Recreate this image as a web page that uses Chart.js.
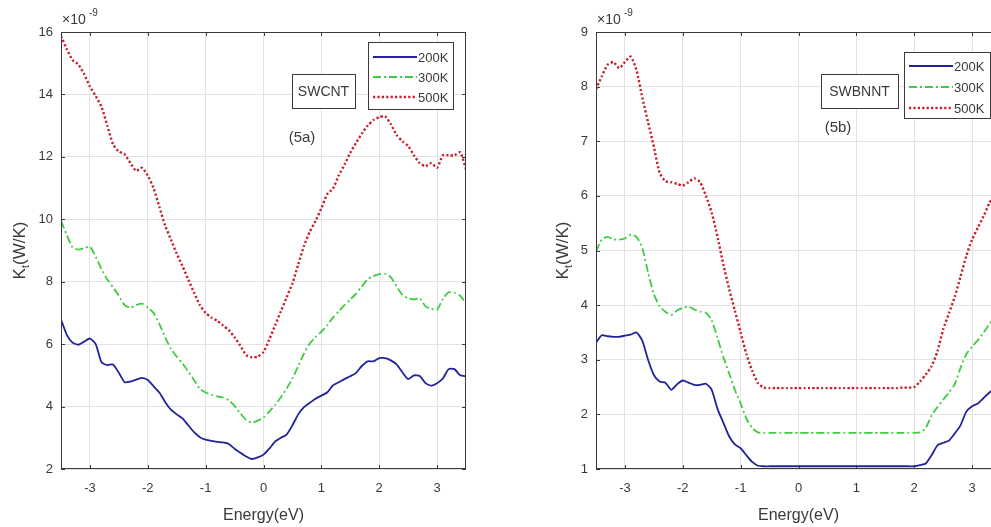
<!DOCTYPE html>
<html>
<head>
<meta charset="utf-8">
<script src="https://cdn.jsdelivr.net/npm/chart.js@4.4.1/dist/chart.umd.min.js"></script>
<style>
    html, body { margin: 0; padding: 0; background: #fff; overflow: hidden; width: 991px; height: 527px; }
    .panel { position: absolute; top: 0; }
    #panelA { left: 0; }
    #panelB { left: 520px; }
</style>
</head>
<body>
<div class="panel" id="panelA"><canvas id="chartA" width="470" height="527"></canvas></div>
<div class="panel" id="panelB"><canvas id="chartB" width="490" height="527"></canvas></div>
<script>
// Energy grid (eV)
const energy = [
    -3.5, -3.4, -3.3, -3.2, -3.1, -3.0, -2.9, -2.8, -2.7, -2.6, -2.5, -2.4, -2.3, -2.2, -2.1, -2.0,
    -1.9, -1.8, -1.7, -1.6, -1.5, -1.4, -1.3, -1.2, -1.1, -1.0, -0.9, -0.8, -0.7, -0.6, -0.5, -0.4,
    -0.3, -0.2, -0.1, 0.0, 0.1, 0.2, 0.3, 0.4, 0.5, 0.6, 0.7, 0.8, 0.9, 1.0, 1.1, 1.2,
    1.3, 1.4, 1.5, 1.6, 1.7, 1.8, 1.9, 2.0, 2.1, 2.2, 2.3, 2.4, 2.5, 2.6, 2.7, 2.8,
    2.9, 3.0, 3.1, 3.2, 3.3, 3.4, 3.5
];

// SWCNT thermal conductance (x1e-9 W/K)
const swcnt200 = [
    6.79, 6.30, 6.05, 5.98, 6.08, 6.18, 6.00, 5.42, 5.33, 5.35, 5.08, 4.78, 4.80, 4.86, 4.92, 4.85,
    4.65, 4.45, 4.15, 3.90, 3.75, 3.62, 3.40, 3.18, 3.02, 2.94, 2.90, 2.87, 2.85, 2.80, 2.65, 2.52,
    2.40, 2.32, 2.37, 2.46, 2.65, 2.88, 3.00, 3.10, 3.40, 3.75, 3.98, 4.12, 4.25, 4.35, 4.45, 4.68,
    4.78, 4.88, 4.97, 5.08, 5.30, 5.45, 5.45, 5.55, 5.55, 5.48, 5.35, 5.10, 4.88, 5.00, 4.98, 4.75,
    4.67, 4.75, 4.90, 5.20, 5.20, 5.00, 4.97
];
const swcnt300 = [
    9.95, 9.50, 9.10, 9.03, 9.08, 9.12, 8.80, 8.40, 8.07, 7.82, 7.55, 7.25, 7.17, 7.25, 7.30, 7.17,
    7.00, 6.65, 6.22, 5.85, 5.60, 5.38, 5.12, 4.85, 4.57, 4.45, 4.38, 4.33, 4.29, 4.20, 4.02, 3.78,
    3.57, 3.49, 3.55, 3.65, 3.84, 4.05, 4.30, 4.58, 4.90, 5.30, 5.70, 6.02, 6.22, 6.40, 6.60, 6.85,
    7.05, 7.25, 7.43, 7.62, 7.85, 8.08, 8.18, 8.24, 8.25, 8.15, 7.85, 7.58, 7.47, 7.43, 7.47, 7.21,
    7.13, 7.10, 7.45, 7.66, 7.65, 7.55, 7.30
];
const swcnt500 = [
    15.87, 15.45, 15.10, 14.96, 14.65, 14.25, 13.95, 13.60, 13.00, 12.40, 12.17, 12.08, 11.80, 11.55, 11.65, 11.40,
    11.00, 10.40, 9.80, 9.35, 8.90, 8.50, 8.07, 7.65, 7.25, 7.00, 6.85, 6.75, 6.60, 6.45, 6.22, 5.95,
    5.65, 5.58, 5.60, 5.75, 6.15, 6.60, 7.05, 7.50, 7.95, 8.55, 9.15, 9.60, 9.95, 10.35, 10.80, 10.98,
    11.40, 11.75, 12.13, 12.45, 12.75, 13.00, 13.18, 13.27, 13.30, 13.05, 12.70, 12.50, 12.35, 12.05, 11.80, 11.70,
    11.80, 11.65, 12.05, 12.05, 12.05, 12.15, 11.60
];

// SWBNNT thermal conductance (x1e-9 W/K)
const swbnnt200 = [
    3.31, 3.45, 3.43, 3.42, 3.42, 3.44, 3.46, 3.50, 3.35, 3.00, 2.72, 2.60, 2.58, 2.45, 2.55, 2.62,
    2.58, 2.54, 2.54, 2.56, 2.45, 2.10, 1.85, 1.60, 1.45, 1.38, 1.25, 1.13, 1.06, 1.05, 1.05, 1.05,
    1.05, 1.05, 1.05, 1.05, 1.05, 1.05, 1.05, 1.05, 1.05, 1.05, 1.05, 1.05, 1.05, 1.05, 1.05, 1.05,
    1.05, 1.05, 1.05, 1.05, 1.05, 1.05, 1.05, 1.05, 1.07, 1.10, 1.25, 1.43, 1.48, 1.52, 1.65, 1.80,
    2.05, 2.15, 2.20, 2.30, 2.40, 2.48, 2.55
];
const swbnnt300 = [
    4.98, 5.20, 5.25, 5.20, 5.20, 5.22, 5.29, 5.25, 5.05, 4.60, 4.20, 3.98, 3.88, 3.82, 3.90, 3.95,
    3.97, 3.92, 3.88, 3.86, 3.72, 3.40, 3.05, 2.75, 2.45, 2.20, 1.92, 1.75, 1.67, 1.66, 1.66, 1.66,
    1.66, 1.66, 1.66, 1.66, 1.66, 1.66, 1.66, 1.66, 1.66, 1.66, 1.66, 1.66, 1.66, 1.66, 1.66, 1.66,
    1.66, 1.66, 1.66, 1.66, 1.66, 1.66, 1.66, 1.66, 1.67, 1.75, 1.98, 2.13, 2.27, 2.40, 2.55, 2.85,
    3.10, 3.24, 3.36, 3.50, 3.65, 3.80, 3.95
];
const swbnnt500 = [
    7.95, 8.19, 8.40, 8.45, 8.34, 8.45, 8.55, 8.30, 7.80, 7.35, 6.90, 6.42, 6.27, 6.25, 6.22, 6.19,
    6.25, 6.32, 6.25, 6.00, 5.69, 5.25, 4.75, 4.30, 3.90, 3.50, 3.10, 2.80, 2.57, 2.49, 2.48, 2.48,
    2.48, 2.48, 2.48, 2.48, 2.48, 2.48, 2.48, 2.48, 2.48, 2.48, 2.48, 2.48, 2.48, 2.48, 2.48, 2.48,
    2.48, 2.48, 2.48, 2.48, 2.48, 2.49, 2.49, 2.50, 2.60, 2.73, 2.88, 3.15, 3.55, 3.85, 4.15, 4.52,
    4.90, 5.20, 5.42, 5.63, 5.87, 6.05, 6.25
];

const seriesLabels = ['200K', '300K', '500K'];
const xTicks = [-3, -2, -1, 0, 1, 2, 3];

const FONT = '"Liberation Sans", Arial, sans-serif';
const TEXT = '#3a3a3a';
const FRAME = '#3a3a3a';

const styles = [
    { color: '#22229a', width: 1.8, dash: [] },
    { color: '#3fcc3f', width: 1.8, dash: [8, 3, 2, 3] },
    { color: '#c8202e', width: 2.4, dash: [2.2, 2.2] }
];

function makeDatasets(seriesList) {
    return seriesList.map((vals, i) => ({
        label: seriesLabels[i],
        data: energy.map((e, k) => ({ x: e, y: vals[k] })),
        borderColor: styles[i].color,
        borderWidth: styles[i].width,
        borderDash: styles[i].dash,
        borderCapStyle: 'butt',
        pointRadius: 0,
        tension: 0.2,
        fill: false
    }));
}

// MATLAB-like frame, inward ticks, exponent, axis titles, legend and labels
const figurePlugin = {
    id: 'figurePlugin',
    afterDraw(chart, args, opts) {
        const { ctx, chartArea: a, scales } = chart;
        ctx.save();

        // frame
        ctx.strokeStyle = FRAME;
        ctx.lineWidth = 1;
        ctx.strokeRect(a.left + 0.5, a.top + 0.5, a.right - a.left - 1, a.bottom - a.top - 1);

        // inward ticks on all four sides
        ctx.beginPath();
        scales.x.ticks.forEach(t => {
            const px = Math.round(scales.x.getPixelForValue(t.value)) + 0.5;
            ctx.moveTo(px, a.bottom); ctx.lineTo(px, a.bottom - 4);
            ctx.moveTo(px, a.top); ctx.lineTo(px, a.top + 4);
        });
        scales.y.ticks.forEach(t => {
            const py = Math.round(scales.y.getPixelForValue(t.value)) + 0.5;
            ctx.moveTo(a.left, py); ctx.lineTo(a.left + 4, py);
            ctx.moveTo(a.right, py); ctx.lineTo(a.right - 4, py);
        });
        ctx.stroke();

        ctx.fillStyle = TEXT;
        ctx.textBaseline = 'middle';

        // exponent
        ctx.textAlign = 'left';
        ctx.font = '14px ' + FONT;
        ctx.fillText('\u00d710', a.left + 1, 20);
        ctx.font = '10px ' + FONT;
        ctx.fillText('-9', a.left + 28, 13);

        // x title
        ctx.textAlign = 'center';
        ctx.font = '16px ' + FONT;
        ctx.fillText('Energy(eV)', (a.left + a.right) / 2, 516);

        // y title with subscript
        ctx.save();
        ctx.translate(opts.yTitleX, (a.top + a.bottom) / 2);
        ctx.rotate(-Math.PI / 2);
        ctx.font = '17px ' + FONT;
        const wK = ctx.measureText('K').width;
        ctx.font = '11px ' + FONT;
        const wt = ctx.measureText('t').width;
        ctx.font = '17px ' + FONT;
        const wRest = ctx.measureText('(W/K)').width;
        let x0 = -(wK + wt + wRest) / 2;
        ctx.textAlign = 'left';
        ctx.fillText('K', x0, 0);
        ctx.font = '11px ' + FONT;
        ctx.fillText('t', x0 + wK, 6);
        ctx.font = '17px ' + FONT;
        ctx.fillText('(W/K)', x0 + wK + wt, 0);
        ctx.restore();

        // material tag box
        const tb = opts.tagBox;
        ctx.fillStyle = '#fff';
        ctx.fillRect(tb.x, tb.y, tb.w, tb.h);
        ctx.strokeStyle = FRAME;
        ctx.strokeRect(tb.x + 0.5, tb.y + 0.5, tb.w, tb.h);
        ctx.fillStyle = TEXT;
        ctx.font = '14px ' + FONT;
        ctx.textAlign = 'center';
        ctx.fillText(opts.tag, tb.x + tb.w / 2, tb.y + tb.h / 2 + 1);

        // panel label
        ctx.font = '15px ' + FONT;
        ctx.fillText(opts.panel, opts.panelPos.x, opts.panelPos.y);

        // legend
        const lb = opts.legendBox;
        ctx.fillStyle = '#fff';
        ctx.fillRect(lb.x, lb.y, lb.w, lb.h);
        ctx.strokeStyle = FRAME;
        ctx.lineWidth = 1;
        ctx.strokeRect(lb.x + 0.5, lb.y + 0.5, lb.w, lb.h);
        chart.data.datasets.forEach((ds, i) => {
            const y = lb.y + lb.rowTop + i * lb.rowGap;
            ctx.beginPath();
            ctx.strokeStyle = ds.borderColor;
            ctx.lineWidth = ds.borderWidth;
            ctx.setLineDash(ds.borderDash);
            ctx.moveTo(lb.x + 5, y);
            ctx.lineTo(lb.x + 5 + lb.sample, y);
            ctx.stroke();
            ctx.setLineDash([]);
            ctx.fillStyle = TEXT;
            ctx.font = '13px ' + FONT;
            ctx.textAlign = 'left';
            ctx.fillText(ds.label, lb.x + 6 + lb.sample, y + 1);
        });

        ctx.restore();
    }
};

function makeChart(canvasId, seriesList, yMin, yMax, yStep, layout, extras) {
    return new Chart(document.getElementById(canvasId), {
        type: 'line',
        data: { datasets: makeDatasets(seriesList) },
        plugins: [figurePlugin],
        options: {
            responsive: false,
            animation: false,
            layout: { padding: { left: 0, right: layout.padRight, top: 32, bottom: 0 } },
            plugins: {
                legend: { display: false },
                tooltip: { enabled: false },
                figurePlugin: extras
            },
            scales: {
                x: {
                    type: 'linear',
                    min: -3.5,
                    max: 3.5,
                    afterBuildTicks: s => { s.ticks = xTicks.map(v => ({ value: v })); },
                    afterFit: s => { s.height = 58; },
                    grid: { color: '#e2e2e2', drawTicks: false },
                    border: { display: false },
                    ticks: { padding: 12, color: TEXT, font: { family: FONT, size: 13 } }
                },
                y: {
                    min: yMin,
                    max: yMax,
                    afterFit: s => { s.width = layout.yWidth; },
                    grid: { color: '#e2e2e2', drawTicks: false },
                    border: { display: false },
                    ticks: { stepSize: yStep, padding: 8, color: TEXT, font: { family: FONT, size: 13 } }
                }
            }
        }
    });
}

makeChart('chartA', [swcnt200, swcnt300, swcnt500], 2, 16, 2,
    { padRight: 4, yWidth: 61 },
    {
        yTitleX: 20,
        tag: 'SWCNT',
        tagBox: { x: 292, y: 74, w: 63, h: 34 },
        panel: '(5a)',
        panelPos: { x: 302, y: 138 },
        legendBox: { x: 368, y: 42, w: 85, h: 67, rowTop: 15, rowGap: 20, sample: 44 }
    });

makeChart('chartB', [swbnnt200, swbnnt300, swbnnt500], 1, 9, 1,
    { padRight: 9, yWidth: 76 },
    {
        yTitleX: 43,
        tag: 'SWBNNT',
        tagBox: { x: 301, y: 74, w: 77, h: 34 },
        panel: '(5b)',
        panelPos: { x: 318, y: 128 },
        legendBox: { x: 384, y: 52, w: 86, h: 66, rowTop: 14, rowGap: 21, sample: 44 }
    });
</script>
</body>
</html>
